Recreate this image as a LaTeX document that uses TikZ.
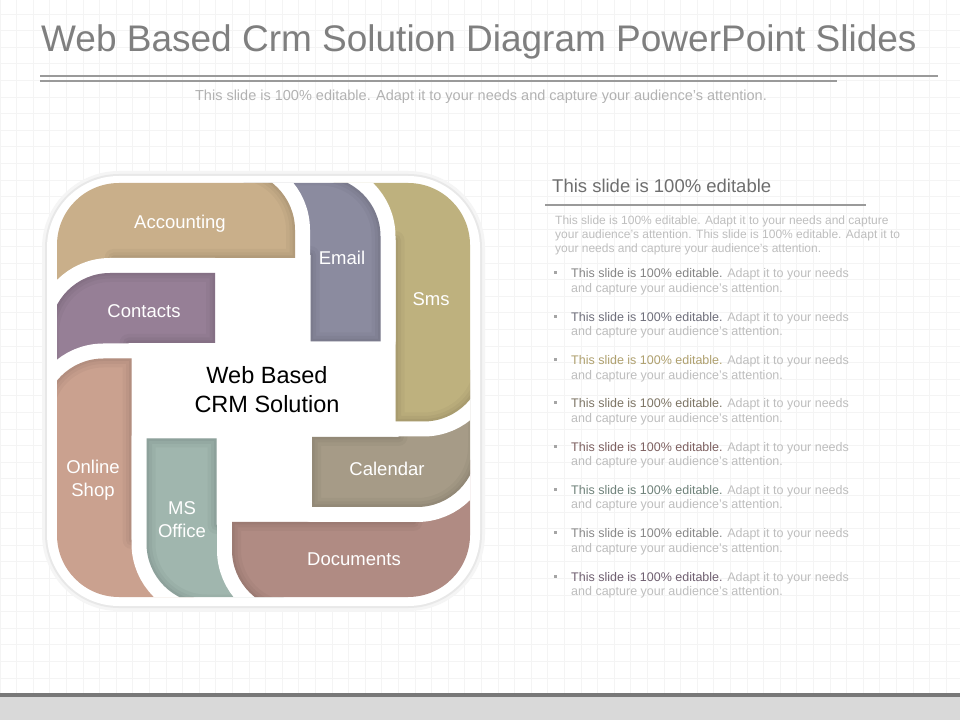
\documentclass[tikz,border=0pt]{standalone}
\usepackage{fontspec}
\setmainfont{Liberation Sans}
\definecolor{acc}{HTML}{C9AF8A}
\definecolor{con}{HTML}{967F96}
\definecolor{ema}{HTML}{8B8B9F}
\definecolor{sms}{HTML}{BEB17E}
\definecolor{cal}{HTML}{A69B87}
\definecolor{doc}{HTML}{B08B83}
\definecolor{mso}{HTML}{A0B6AE}
\definecolor{ons}{HTML}{CAA18F}
\definecolor{titlegray}{HTML}{7F7F7F}
\definecolor{rulegray}{HTML}{9A9A9A}
\definecolor{lightgray}{HTML}{BEBEBE}
\definecolor{headgray}{HTML}{6E6E6E}
\definecolor{gridgray}{HTML}{F4F4F4}
\definecolor{bulgray}{HTML}{A5A5A5}
\definecolor{bA}{HTML}{858585}
\definecolor{bB}{HTML}{6E6E7A}
\definecolor{bC}{HTML}{AFA06E}
\definecolor{bD}{HTML}{7D7565}
\definecolor{bE}{HTML}{7D6060}
\definecolor{bF}{HTML}{6F827A}
\definecolor{bG}{HTML}{888888}
\definecolor{bH}{HTML}{6F5F70}
\tikzset{
  shA/.style={insert path={(-240,220) -- (-28.5,220) arc[start angle=90,end angle=0,radius=60] -- (31.5,132) -- (-150,132) -- (-150,70) -- (-240,70) -- cycle}},
  shB/.style={insert path={(-213.5,57) arc[start angle=180,end angle=90,radius=60] -- (-48.5,117) -- (-48.5,47) -- (-135,47) -- (-135,-20) -- (-213.5,-20) -- cycle}},
  lbl/.style={text=white,font=\fontsize{18.5}{23}\selectfont,align=center},
  para/.style={anchor=base west,text=lightgray,font=\fontsize{12}{14}\selectfont,inner sep=0pt},
  bul/.style={anchor=base west,text=lightgray,font=\fontsize{12.5}{15}\selectfont,inner sep=0pt}
}
\newcommand{\drawpiece}[3]{%
  \begin{scope}[shift={(263.5,330)},rotate=#1]
    \draw[white,line width=30pt,line join=round,#2];
    \fill[#3,#2];
    \begin{scope}
      \clip[#2];
      \draw[black,opacity=.03,line width=18pt,line join=round,#2];
      \draw[black,opacity=.035,line width=11pt,line join=round,#2];
      \draw[black,opacity=.045,line width=5pt,line join=round,#2];
    \end{scope}
  \end{scope}}
\begin{document}
\begin{tikzpicture}[x=1pt,y=1pt]
\useasboundingbox (0,0) rectangle (960,720);
\fill[white] (0,0) rectangle (960,720);
% grid
\foreach \i in {0,...,58} \draw[gridgray,line width=0.8pt] (\i*16.6,27) -- (\i*16.6,720);
\foreach \j in {0,...,41} \draw[gridgray,line width=0.8pt] (0,706-\j*16.6) -- (960,706-\j*16.6);
% bottom bar
\fill[black!15] (0,0) rectangle (960,23);
\fill[black!53] (0,23) rectangle (960,27);
% title
\node[anchor=base west,text=titlegray,font=\fontsize{37}{44}\selectfont,inner sep=0pt] (title) at (41,668) {Web Based Crm Solution Diagram PowerPoint Slides};
\draw[rulegray,line width=1.2pt] (40,644) -- (938,644);
\draw[rulegray,line width=1.2pt] (40,639) -- (837,639);
\node[anchor=base,text=black!30,font=\fontsize{14.5}{17}\selectfont,inner sep=0pt] (sub) at (481,619) {This slide is 100\% editable. Adapt it to your needs and capture your audience's attention.};
% frame
\fill[black!4,rounded corners=77] (42,109) rectangle (485,549);
\fill[black!9,rounded corners=74] (45,112) rectangle (482,546);
\fill[white,rounded corners=72] (47,114) rectangle (480,544);
% pieces
\begin{scope}
  \clip[rounded corners=62] (57,123) rectangle (470,537);
  \drawpiece{0}{shB}{con}
  \drawpiece{90}{shA}{ons}
  \drawpiece{90}{shB}{mso}
  \drawpiece{180}{shA}{doc}
  \drawpiece{180}{shB}{cal}
  \drawpiece{-90}{shA}{sms}
  \drawpiece{-90}{shB}{ema}
  \drawpiece{0}{shA}{acc}
  \begin{scope}
    \clip (0,380) rectangle (960,720);
    \drawpiece{0}{shB}{con}
  \end{scope}
\end{scope}
% labels
\node[lbl] (lacc) at (180,496) {Accounting};
\node[lbl] (lema) at (342,462) {Email};
\node[lbl] (lsms) at (431,421) {Sms};
\node[lbl] (lcon) at (144,409) {Contacts};
\node[lbl] (lons) at (93,240) {Online\\Shop};
\node[lbl] (lmso) at (182,200) {MS\\Office};
\node[lbl] (lcal) at (387,251) {Calendar};
\node[lbl] (ldoc) at (354,161) {Documents};
\node[align=center,font=\fontsize{23.5}{29}\selectfont] (center) at (267,330.5) {Web Based\\CRM Solution};
% right panel
\node[anchor=base west,text=headgray,font=\fontsize{18.5}{22}\selectfont,inner sep=0pt] (head) at (552,527) {This slide is 100\% editable};
\draw[rulegray,line width=1.2pt] (545,515) -- (866,515);
\node[para] (p1) at (555,495) {This slide is 100\% editable. Adapt it to your needs and capture};
\node[para] (p2) at (555,481) {your audience's attention. This slide is 100\% editable. Adapt it to};
\node[para] (p3) at (555,467.5) {your needs and capture your audience's attention.};
\foreach \i/\c in {0/bA,1/bB,2/bC,3/bD,4/bE,5/bF,6/bG,7/bH}{
  \fill[bulgray] (553.5,445.5-43.3*\i) rectangle ++(3,3);
  \node[bul] (bu\i a) at (571,442-43.3*\i) {{\color{\c}This slide is 100\% editable.} Adapt it to your needs};
  \node[bul] (bu\i b) at (571,427.5-43.3*\i) {and capture your audience's attention.};
}
\end{tikzpicture}
\end{document}
